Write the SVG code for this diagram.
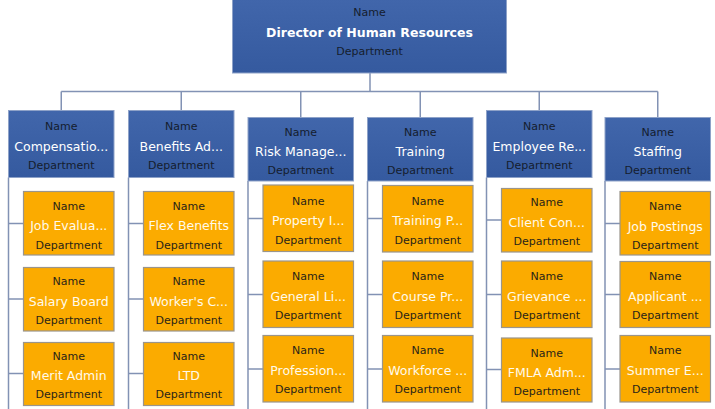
<svg xmlns="http://www.w3.org/2000/svg" width="715" height="409" viewBox="0 0 715 409">
<defs>
<linearGradient id="gb" x1="0" y1="0" x2="0" y2="1">
<stop offset="0" stop-color="#4166ab"/>
<stop offset="1" stop-color="#355a9f"/>
</linearGradient>
<style>
.b{fill:url(#gb);stroke:#8ea2c8;stroke-width:1}
.o{fill:#fbab00;stroke:#9a958c;stroke-width:1.2}
.c{fill:none;stroke:#8292b4;stroke-width:1.5}
text{font-family:"DejaVu Sans",Verdana,sans-serif;text-anchor:middle}
.n{font-size:11px;fill:#151d2e}
.on{font-size:11px;fill:#2a2418}
.t{font-size:12.5px;fill:#ffffff}
.ot{font-size:12.5px;fill:#fffaea}
.d{font-size:12.5px;font-weight:bold;fill:#ffffff}
</style>
</defs>
<rect width="715" height="409" fill="#ffffff"/>
<g id="connectors">
<path class="c" d="M370,73 V91.5 M61.25,91.5 H657.75 M61.25,91.5 V110.5 M181.25,91.5 V110.5 M300.75,91.5 V117.5 M420.25,91.5 V117.5 M539.25,91.5 V110.5 M657.75,91.5 V117.5"/>
<path class="c" d="M8.5,177.5 V409 M8.5,223.5 H23.5 M8.5,299 H23.5 M8.5,373.5 H23.5"/>
<path class="c" d="M128.5,177.5 V409 M128.5,223.5 H143.5 M128.5,299 H143.5 M128.5,373.5 H143.5"/>
<path class="c" d="M248,181 V409 M248,218.5 H263 M248,294.5 H263 M248,369 H263"/>
<path class="c" d="M367.5,181 V409 M367.5,218.5 H382.5 M367.5,294.5 H382.5 M367.5,369 H382.5"/>
<path class="c" d="M486.5,177.5 V409 M486.5,220 H501.5 M486.5,294.5 H501.5 M486.5,369.5 H501.5"/>
<path class="c" d="M605,181 V409 M605,223.5 H620 M605,294.5 H620 M605,369 H620"/>
</g>
<g id="director">
<rect class="b" x="232.5" y="-1" width="274" height="74"/>
<text class="n" x="369.5" y="16">Name</text>
<text class="d" x="369.5" y="36.5">Director of Human Resources</text>
<text class="n" x="369.5" y="54.5">Department</text>
</g>
<g id="compensation">
<rect class="b" x="8.5" y="110.5" width="105.5" height="67"/>
<text class="n" x="61.25" y="130">Name</text>
<text class="t" x="61.25" y="150.5">Compensatio...</text>
<text class="n" x="61.25" y="169">Department</text>
</g>
<g id="benefits">
<rect class="b" x="128.5" y="110.5" width="105.5" height="67"/>
<text class="n" x="181.25" y="130">Name</text>
<text class="t" x="181.25" y="150.5">Benefits Ad...</text>
<text class="n" x="181.25" y="169">Department</text>
</g>
<g id="risk">
<rect class="b" x="248" y="117.5" width="105.5" height="63.5"/>
<text class="n" x="300.75" y="135.7">Name</text>
<text class="t" x="300.75" y="156">Risk Manage...</text>
<text class="n" x="300.75" y="174">Department</text>
</g>
<g id="training">
<rect class="b" x="367.5" y="117.5" width="105.5" height="63.5"/>
<text class="n" x="420.25" y="135.7">Name</text>
<text class="t" x="420.25" y="156">Training</text>
<text class="n" x="420.25" y="174">Department</text>
</g>
<g id="employee">
<rect class="b" x="486.5" y="110.5" width="105.5" height="67"/>
<text class="n" x="539.25" y="130">Name</text>
<text class="t" x="539.25" y="150.5">Employee Re...</text>
<text class="n" x="539.25" y="169">Department</text>
</g>
<g id="staffing">
<rect class="b" x="605" y="117.5" width="105.5" height="63.5"/>
<text class="n" x="657.75" y="135.7">Name</text>
<text class="t" x="657.75" y="156">Staffing</text>
<text class="n" x="657.75" y="174">Department</text>
</g>

<g id="job-evaluation">
<rect class="o" x="23.5" y="191.5" width="90.5" height="63.5"/>
<text class="on" x="68.75" y="209.5">Name</text>
<text class="ot" x="68.75" y="230">Job Evalua...</text>
<text class="on" x="68.75" y="248.5">Department</text>
</g>
<g id="salary-board">
<rect class="o" x="23.5" y="267.5" width="90.5" height="63.5"/>
<text class="on" x="68.75" y="285.3">Name</text>
<text class="ot" x="68.75" y="305.5">Salary Board</text>
<text class="on" x="68.75" y="324">Department</text>
</g>
<g id="merit-admin">
<rect class="o" x="23.5" y="342.5" width="90.5" height="63"/>
<text class="on" x="68.75" y="359.7">Name</text>
<text class="ot" x="68.75" y="380.2">Merit Admin</text>
<text class="on" x="68.75" y="398.3">Department</text>
</g>

<g id="flex-benefits">
<rect class="o" x="143.5" y="191.5" width="90.5" height="63.5"/>
<text class="on" x="188.75" y="209.5">Name</text>
<text class="ot" x="188.75" y="230">Flex Benefits</text>
<text class="on" x="188.75" y="248.5">Department</text>
</g>
<g id="workers-comp">
<rect class="o" x="143.5" y="267.5" width="90.5" height="63.5"/>
<text class="on" x="188.75" y="285.3">Name</text>
<text class="ot" x="188.75" y="305.5">Worker's C...</text>
<text class="on" x="188.75" y="324">Department</text>
</g>
<g id="ltd">
<rect class="o" x="143.5" y="342.5" width="90.5" height="63"/>
<text class="on" x="188.75" y="359.7">Name</text>
<text class="ot" x="188.75" y="380.2">LTD</text>
<text class="on" x="188.75" y="398.3">Department</text>
</g>

<g id="property">
<rect class="o" x="263" y="185" width="90.5" height="66.5"/>
<text class="on" x="308.25" y="204.5">Name</text>
<text class="ot" x="308.25" y="225">Property I...</text>
<text class="on" x="308.25" y="244">Department</text>
</g>
<g id="general-liability">
<rect class="o" x="263" y="261" width="90.5" height="66.5"/>
<text class="on" x="308.25" y="280">Name</text>
<text class="ot" x="308.25" y="300.5">General Li...</text>
<text class="on" x="308.25" y="319">Department</text>
</g>
<g id="professional">
<rect class="o" x="263" y="335.5" width="90.5" height="66.5"/>
<text class="on" x="308.25" y="354.3">Name</text>
<text class="ot" x="308.25" y="374.8">Profession...</text>
<text class="on" x="308.25" y="393.3">Department</text>
</g>

<g id="training-programs">
<rect class="o" x="382.5" y="185.5" width="90.5" height="66.5"/>
<text class="on" x="427.75" y="204.5">Name</text>
<text class="ot" x="427.75" y="225">Training P...</text>
<text class="on" x="427.75" y="244">Department</text>
</g>
<g id="course-programs">
<rect class="o" x="382.5" y="261" width="90.5" height="66.5"/>
<text class="on" x="427.75" y="280">Name</text>
<text class="ot" x="427.75" y="300.5">Course Pr...</text>
<text class="on" x="427.75" y="319">Department</text>
</g>
<g id="workforce">
<rect class="o" x="382.5" y="335.5" width="90.5" height="66.5"/>
<text class="on" x="427.75" y="354.3">Name</text>
<text class="ot" x="427.75" y="374.8">Workforce ...</text>
<text class="on" x="427.75" y="393.3">Department</text>
</g>

<g id="client-consultation">
<rect class="o" x="501.5" y="188.5" width="90.5" height="63.5"/>
<text class="on" x="546.75" y="205.5">Name</text>
<text class="ot" x="546.75" y="226.5">Client Con...</text>
<text class="on" x="546.75" y="245">Department</text>
</g>
<g id="grievance">
<rect class="o" x="501.5" y="261" width="90.5" height="66.5"/>
<text class="on" x="546.75" y="280">Name</text>
<text class="ot" x="546.75" y="300.5">Grievance ...</text>
<text class="on" x="546.75" y="319">Department</text>
</g>
<g id="fmla-admin">
<rect class="o" x="501.5" y="338" width="90.5" height="64"/>
<text class="on" x="546.75" y="356.8">Name</text>
<text class="ot" x="546.75" y="376.5">FMLA Adm...</text>
<text class="on" x="546.75" y="395">Department</text>
</g>

<g id="job-postings">
<rect class="o" x="620" y="191.5" width="90.5" height="63.5"/>
<text class="on" x="665.25" y="210">Name</text>
<text class="ot" x="665.25" y="230.5">Job Postings</text>
<text class="on" x="665.25" y="249">Department</text>
</g>
<g id="applicant">
<rect class="o" x="620" y="261.5" width="90.5" height="66"/>
<text class="on" x="665.25" y="280">Name</text>
<text class="ot" x="665.25" y="300.5">Applicant ...</text>
<text class="on" x="665.25" y="319">Department</text>
</g>
<g id="summer">
<rect class="o" x="620" y="335.5" width="90.5" height="66.5"/>
<text class="on" x="665.25" y="354.3">Name</text>
<text class="ot" x="665.25" y="374.8">Summer E...</text>
<text class="on" x="665.25" y="393.3">Department</text>
</g>
</svg>
